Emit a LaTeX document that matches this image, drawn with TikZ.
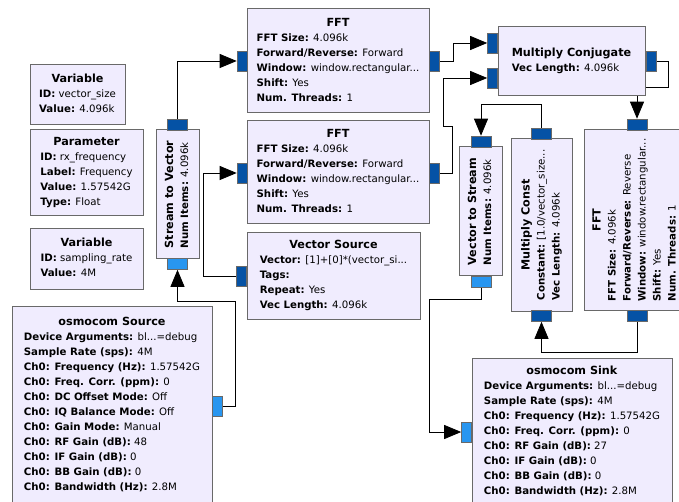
\documentclass[tikz,border=0pt]{standalone}
\usepackage{fontspec}
\setmainfont{DejaVu Sans}
\usetikzlibrary{arrows.meta,calc}

\definecolor{blkfill}{RGB}{240,236,254}
\definecolor{blkline}{RGB}{105,105,105}
\definecolor{vecport}{RGB}{5,82,165}
\definecolor{cpxport}{RGB}{40,150,240}

% block text: centred title, then key: value rows
\newcommand{\blktext}[1]{\begin{tabular}{@{}l@{}}#1\end{tabular}}
\newcommand{\ttl}[1]{\multicolumn{1}{@{}c@{}}{\fontsize{11.2}{15}\selectfont\textbf{#1}}\\}
\newcommand{\kv}[2]{\textbf{#1:} #2\\}

\tikzset{
  blk/.style={draw=blkline, fill=blkfill, line width=1pt, inner sep=1pt,
    font=\fontsize{10.2}{15}\selectfont},
  porth/.style={draw=blkline, line width=0.6pt, minimum width=10pt, minimum height=20pt, inner sep=0pt},
  portv/.style={draw=blkline, line width=0.6pt, minimum width=20pt, minimum height=11pt, inner sep=0pt},
  vecfill/.style={fill=vecport},
  cpxfill/.style={fill=cpxport},
  wire/.style={draw=black, line width=0.8pt, -{Triangle[length=17pt,width=14pt]}}
}

\begin{document}
\begin{tikzpicture}[x=1pt, y=-1pt]
  \useasboundingbox[fill=white] (0,0) rectangle (679,502);

  % port positions first, so the wires know where to go
  \path (242,61) node[porth] (fft1in) {}
        (434,61) node[porth] (fft1out) {}
        (242,173) node[porth] (fft2in) {}
        (434,173) node[porth] (fft2out) {}
        (241.5,276.5) node[porth] (vsrcout) {}
        (177.5,124.5) node[portv] (s2vout) {}
        (177.5,264) node[portv] (s2vin) {}
        (217.5,406) node[porth] (srcout) {}
        (492.5,43) node[porth] (mcin1) {}
        (492.5,78) node[porth] (mcin2) {}
        (651,61) node[porth] (mcout) {}
        (637,124.5) node[portv] (fft3in) {}
        (637,316) node[portv] (fft3out) {}
        (541.5,133.5) node[portv] (mconstout) {}
        (541.5,316) node[portv] (mconstin) {}
        (481,141.5) node[portv] (v2sin) {}
        (481,281.5) node[portv] (v2sout) {}
        (466.5,432) node[porth] (snkin) {};

  % wires
  \draw[wire] (s2vout.north) |- (fft1in.west);
  \draw[wire] (vsrcout.west) -- ++(-33,0) |- (fft2in.west);
  \draw[wire] (srcout.east) -- ++(13,0) |- ($(s2vin.south)+(0,32)$) -- (s2vin.south);
  \draw[wire] (fft1out.east) -- ++(14,0) |- (mcin1.west);
  \draw[wire] (fft2out.east) -- ++(13,0) -- ++(0,-47) -- ++(-9,0) |- (mcin2.west);
  \draw[wire] (mcout.east) -- ++(12,0) -- ++(0,26) -| (fft3in.north);
  \draw[wire] (fft3out.south) -- ++(0,31) -| (mconstin.south);
  \draw[wire] (mconstout.north) -- ++(0,-23) -| (v2sin.north);
  \draw[wire] (v2sout.south) -- ++(0,12) -- ++(-52,0) |- (snkin.west);

  % blocks
  \node[blk, minimum width=95pt, minimum height=60pt] (varsize) at (77.5,95)
    {\blktext{\ttl{Variable}\kv{ID}{vector\_size}\kv{Value}{4.096k}}};
  \node[blk, minimum width=113pt, minimum height=86pt] (param) at (86.5,173)
    {\blktext{\ttl{Parameter}\kv{ID}{rx\_frequency}\kv{Label}{Frequency}\kv{Value}{1.57542G}\kv{Type}{Float}}};
  \node[blk, minimum width=113pt, minimum height=60pt] (varrate) at (86.5,259)
    {\blktext{\ttl{Variable}\kv{ID}{sampling\_rate}\kv{Value}{4M}}};
  \node[blk, minimum width=200pt, minimum height=198pt] (src) at (112,405)
    {\blktext{\ttl{osmocom Source}\kv{Device Arguments}{bl...=debug}\kv{Sample Rate (sps)}{4M}%
      \kv{Ch0: Frequency (Hz)}{1.57542G}\kv{Ch0: Freq. Corr. (ppm)}{0}\kv{Ch0: DC Offset Mode}{Off}%
      \kv{Ch0: IQ Balance Mode}{Off}\kv{Ch0: Gain Mode}{Manual}\kv{Ch0: RF Gain (dB)}{48}%
      \kv{Ch0: IF Gain (dB)}{0}\kv{Ch0: BB Gain (dB)}{0}\kv{Ch0: Bandwidth (Hz)}{2.8M}}};
  \node[blk, rotate=90, minimum width=129pt, minimum height=43pt] (s2v) at (177.5,194.5)
    {\blktext{\ttl{Stream to Vector}\kv{Num Items}{4.096k}}};
  \node[blk, minimum width=182pt, minimum height=104pt] (fft1) at (338,61)
    {\blktext{\ttl{FFT}\kv{FFT Size}{4.096k}\kv{Forward/Reverse}{Forward}%
      \kv{Window}{window.rectangular...}\kv{Shift}{Yes}\kv{Num. Threads}{1}}};
  \node[blk, minimum width=182pt, minimum height=103pt] (fft2) at (338,172.5)
    {\blktext{\ttl{FFT}\kv{FFT Size}{4.096k}\kv{Forward/Reverse}{Forward}%
      \kv{Window}{window.rectangular...}\kv{Shift}{Yes}\kv{Num. Threads}{1}}};
  \node[blk, minimum width=173pt, minimum height=86pt] (vsrc) at (333.5,276)
    {\blktext{\ttl{Vector Source}\kv{Vector}{[1]+[0]*(vector\_si...}\kv{Tags}{}%
      \kv{Repeat}{Yes}\kv{Vec Length}{4.096k}}};
  \node[blk, minimum width=147pt, minimum height=69pt] (mconj) at (571.5,61.5)
    {\blktext{\ttl{Multiply Conjugate}\kv{Vec Length}{4.096k}}};
  \node[blk, rotate=90, minimum width=129pt, minimum height=43pt] (v2s) at (480.5,211.5)
    {\blktext{\ttl{Vector to Stream}\kv{Num Items}{4.096k}}};
  \node[blk, rotate=90, minimum width=172pt, minimum height=61pt] (mconst) at (541.5,225)
    {\blktext{\ttl{Multiply Const}\kv{Constant}{[1.0/vector\_size...}\kv{Vec Length}{4.096k}}};
  \node[blk, rotate=90, minimum width=180pt, minimum height=102pt] (fft3) at (635,220)
    {\blktext{\ttl{FFT}\kv{FFT Size}{4.096k}\kv{Forward/Reverse}{Reverse}%
      \kv{Window}{window.rectangular...}\kv{Shift}{Yes}\kv{Num. Threads}{1}}};
  \node[blk, minimum width=200pt, minimum height=146pt] (snk) at (572,431)
    {\blktext{\ttl{osmocom Sink}\kv{Device Arguments}{bl...=debug}\kv{Sample Rate (sps)}{4M}%
      \kv{Ch0: Frequency (Hz)}{1.57542G}\kv{Ch0: Freq. Corr. (ppm)}{0}\kv{Ch0: RF Gain (dB)}{27}%
      \kv{Ch0: IF Gain (dB)}{0}\kv{Ch0: BB Gain (dB)}{0}\kv{Ch0: Bandwidth (Hz)}{2.8M}}};

  % ports on top of the block edges
  \foreach \p/\s in {fft1in/porth, fft1out/porth, fft2in/porth, fft2out/porth, vsrcout/porth,
      mcin1/porth, mcin2/porth, mcout/porth, s2vout/portv, fft3in/portv, fft3out/portv,
      mconstout/portv, mconstin/portv, v2sin/portv}
    \node[\s, vecfill] at (\p) {};
  \foreach \p/\s in {s2vin/portv, srcout/porth, v2sout/portv, snkin/porth}
    \node[\s, cpxfill] at (\p) {};
\end{tikzpicture}
\end{document}
